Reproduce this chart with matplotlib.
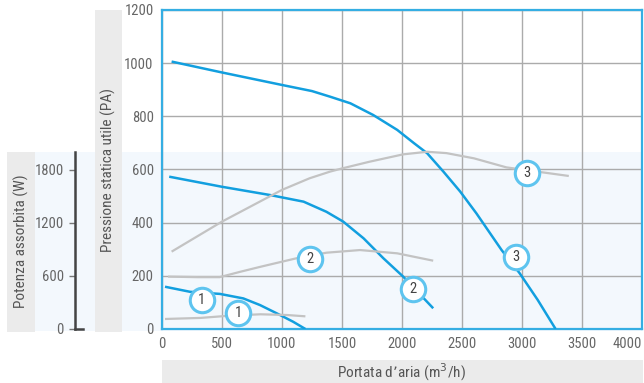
import matplotlib
matplotlib.use('Agg')
import matplotlib.pyplot as plt
from matplotlib.patches import Rectangle

plt.rcParams['font.family'] = ['Roboto Condensed', 'Liberation Sans Narrow', 'Roboto', 'DejaVu Sans']

# pressure curves (Pa) vs air flow (m3/h)
flow_p1 = [25, 233, 483, 678, 817, 956, 1094, 1195]
press_1 = [159, 140, 132, 115, 90, 59, 27, 0]
flow_p2 = [60, 500, 900, 1180, 1370, 1510, 1680, 1845, 2010, 2260]
press_2 = [573, 535, 504, 479, 441, 404, 341, 266, 197, 78]
flow_p3 = [80, 500, 1000, 1250, 1400, 1570, 1760, 1960, 2100, 2210, 2345,
           2485, 2620, 2830, 2980, 3130, 3280]
press_3 = [1006, 965, 918, 895, 874, 849, 805, 749, 699, 661, 592,
           517, 435, 297, 210, 110, 0]

# absorbed power curves (W)
flow_w1 = [25, 320, 560, 820, 1040, 1195]
power_1 = [113, 125, 150, 166, 158, 143]
flow_w2 = [50, 300, 480, 650, 820, 1120, 1370, 1650, 1960, 2260]
power_2 = [591, 585, 585, 645, 702, 798, 861, 891, 854, 771]
flow_w3 = [80, 500, 1000, 1230, 1400, 1500, 1730, 2010, 2210, 2370, 2600, 2870, 3390]
power_3 = [873, 1212, 1570, 1701, 1776, 1812, 1888, 1971, 2000, 1985, 1926, 1824, 1727]

x_ticks = [0, 500, 1000, 1500, 2000, 2500, 3000, 3500, 4000]
p_ticks = [0, 200, 400, 600, 800, 1000, 1200]
w_ticks = [0, 600, 1200, 1800]

# curve number badges: (number, flow, value, on power scale?)
badges = [('1', 330, 110, False), ('1', 636, 177, True),
          ('2', 1233, 786, True), ('2', 2094, 149, False),
          ('3', 3039, 1758, True), ('3', 2950, 272, False)]

W, H = 644, 383
BLUE = '#129fdf'
GREY_LINE = '#c3c3c3'
BAND = '#f3f8fd'
BOX = '#ebebeb'
TXT = '#666666'


def fx(px):
    return px / W


def fy(py):
    return (H - py) / H


fig = plt.figure(figsize=(6.44, 3.83), dpi=100)

# background band and label boxes
fig.add_artist(Rectangle((fx(35), fy(331)), fx(642) - fx(35), fy(152) - fy(331),
                         transform=fig.transFigure, color=BAND, zorder=-5, lw=0))
for x0, y0, x1, y1 in [(7, 152, 35, 332), (95, 10, 122, 332), (162, 360, 643, 383)]:
    fig.add_artist(Rectangle((fx(x0), fy(y1)), fx(x1) - fx(x0), fy(y0) - fy(y1),
                             transform=fig.transFigure, color=BOX, zorder=-4, lw=0))

ax = fig.add_axes([fx(162), fy(329), fx(642) - fx(162), fy(10) - fy(329)])
ax.set_facecolor('none')
ax.set_xlim(0, 4000)
ax.set_ylim(0, 1200)
ax.set_xticks(x_ticks)
ax.set_yticks(p_ticks)
ax.grid(True, color='#ababab', lw=1.0)
ax.set_axisbelow(True)
ax.tick_params(length=0, labelsize=10.5, labelcolor=TXT, pad=6)
ax.get_xticklabels()[-1].set_horizontalalignment('right')
for s in ax.spines.values():
    s.set_color('#35aee3')
    s.set_linewidth(1.6)

axw = ax.twinx()
axw.set_ylim(0, 3600)
axw.axis('off')

for fl, pw in [(flow_w1, power_1), (flow_w2, power_2), (flow_w3, power_3)]:
    axw.plot(fl, pw, color=GREY_LINE, lw=1.6, solid_capstyle='butt', zorder=2)
for fl, pr in [(flow_p1, press_1), (flow_p2, press_2), (flow_p3, press_3)]:
    ax.plot(fl, pr, color=BLUE, lw=1.8, solid_capstyle='butt', zorder=3)

for num, bx, by, on_w in badges:
    a = axw if on_w else ax
    a.scatter([bx], [by], s=310, facecolor='white', edgecolor='#5ec4ef',
              linewidth=2.2, zorder=5, clip_on=False)
    a.text(bx, by, num, ha='center', va='center', fontsize=10.5,
           color='#444444', zorder=6)

# absorbed power scale on the left
axp = fig.add_axes([fx(75), fy(329), fx(83) - fx(75), fy(152) - fy(329)])
axp.set_facecolor('none')
axp.set_ylim(0, 2000)
axp.set_xlim(0, 1)
axp.set_yticks(w_ticks)
axp.set_xticks([])
axp.spines['top'].set_visible(False)
axp.spines['right'].set_visible(False)
for k in ['left', 'bottom']:
    axp.spines[k].set_color('#444444')
    axp.spines[k].set_linewidth(1.8)
axp.tick_params(axis='y', length=4, width=1, color='#777777',
                labelsize=10.5, labelcolor=TXT, pad=4)

fig.text(fx(108.5), fy(170), 'Pressione statica utile (PA)', rotation=90,
         ha='center', va='center', fontsize=11, color='#555555')
fig.text(fx(21), fy(241), 'Potenza assorbita (W)', rotation=90,
         ha='center', va='center', fontsize=11, color='#555555')
fig.text(fx(402), fy(372), 'Portata d\u2019aria (m$^3$/h)',
         ha='center', va='center', fontsize=11, color='#555555')

fig.savefig('out.png', dpi=100)
